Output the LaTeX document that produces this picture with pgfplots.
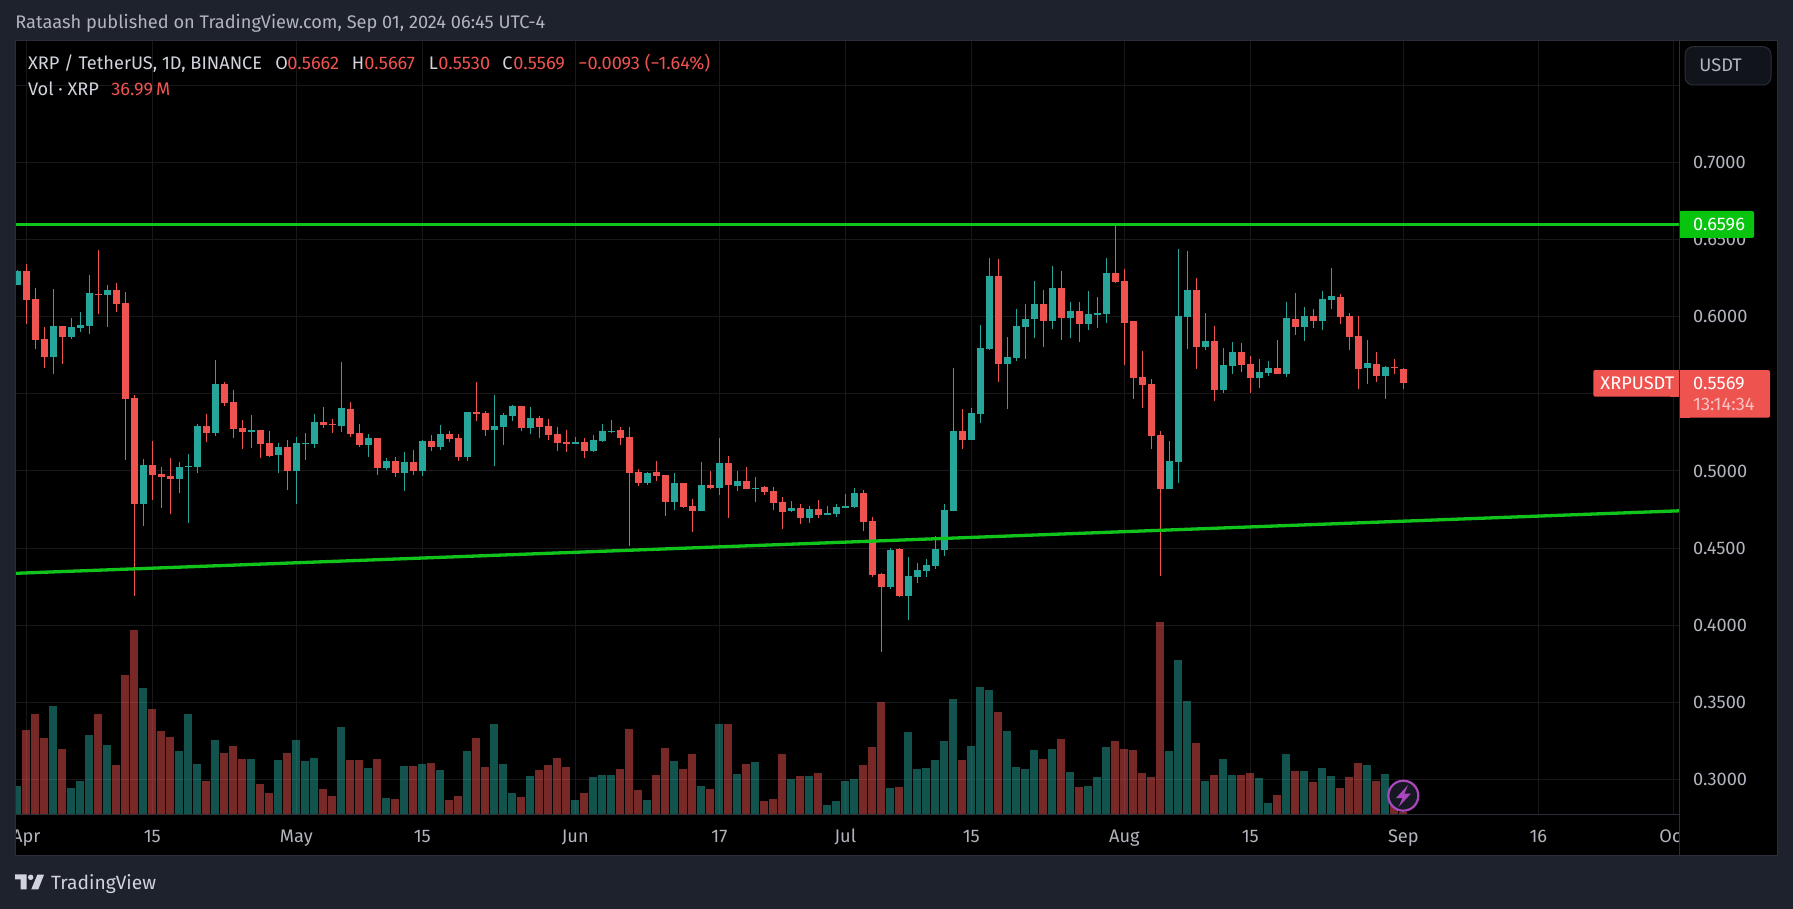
\documentclass[border=0pt]{standalone}
\usepackage{fontspec}
\setmainfont{Fira Sans}
\usepackage{pgfplots}
\usepackage{pgfplotstable}
\pgfplotsset{compat=1.18}

\definecolor{panel}{HTML}{1E222D}
\definecolor{frame}{HTML}{2A2E39}
\definecolor{gridc}{HTML}{18181A}
\definecolor{upc}{HTML}{26A69A}
\definecolor{downc}{HTML}{EF5350}
\definecolor{linec}{HTML}{10C41C}
\definecolor{tagg}{HTML}{08C40F}
\definecolor{labc}{HTML}{B2B5BE}
\definecolor{headc}{HTML}{D1D4DC}
\definecolor{boltc}{HTML}{AB47BC}

% d = days from 1 Apr; body top/bottom, wick high/low, volume in millions
\pgfplotstableread{
d top bot hi lo vol
-1 .6296 .6207 .6302 .6207 407
3 .5940 .5741 .6179 .5631 1515
5 .5933 .5870 .5991 .5857 379
6 .5946 .5927 .6030 .5901 476
7 .6153 .5940 .6270 .5888 1113
9 .6173 .6140 .6205 .5933 975
13 .5039 .4786 .5078 .4644 1765
17 .5026 .4948 .5058 .4857 892
18 .5032 .5026 .5110 .4660 1404
19 .5292 .5026 .5304 .4987 711
21 .5564 .5246 .5719 .5227 1044
25 .5266 .5253 .5363 .5149 781
28 .5155 .5104 .5181 .4987 767
30 .5181 .5000 .5220 .4786 1044
31 .5181 .5175 .5246 .5071 753
32 .5317 .5175 .5369 .5149 795
35 .5408 .5292 .5706 .5253 1224
38 .5214 .5168 .5240 .5091 656
40 .5065 .5019 .5084 .5006 240
42 .5058 .4987 .5123 .4870 684
44 .5194 .5000 .5201 .4968 711
46 .5240 .5155 .5298 .5136 628
49 .5382 .5093 .5382 .5065 892
52 .5291 .5265 .5492 .5032 1266
53 .5363 .5285 .5376 .5168 711
54 .5421 .5356 .5427 .5324 310
56 .5343 .5278 .5414 .5239 545
61 .5188 .5175 .5220 .5175 213
63 .5201 .5129 .5233 .5123 531
64 .5259 .5194 .5304 .5188 559
65 .5259 .5252 .5330 .5246 559
69 .4987 .4922 .4993 .4909 213
72 .4922 .4799 .4987 .4747 753
75 .4909 .4741 .5058 .4741 407
77 .5052 .4890 .5214 .4844 1266
79 .4935 .4903 .5000 .4870 573
81 .4890 .4883 .4961 .4799 739
85 .4760 .4741 .4805 .4734 504
87 .4753 .4695 .4773 .4663 545
89 .4728 .4715 .4773 .4715 143
90 .4766 .4721 .4786 .4702 199
91 .4773 .4760 .4851 .4760 476
92 .4857 .4766 .4890 .4760 504
96 .4488 .4248 .4501 .4235 379
98 .4319 .4190 .4443 .4034 1155
99 .4358 .4313 .4404 .4274 642
100 .4391 .4352 .4429 .4313 656
101 .4494 .4384 .4579 .4365 767
102 .4747 .4488 .4786 .4449 1030
103 .5259 .4741 .5667 .4741 1612
105 .5376 .5201 .5408 .5201 961
106 .5797 .5369 .5946 .5311 1779
107 .6263 .5790 .6380 .5784 1737
109 .5738 .5693 .5868 .5401 1169
110 .5939 .5732 .6049 .5713 670
111 .5985 .5933 .6082 .5725 642
112 .6082 .5985 .6231 .5862 906
114 .6186 .5972 .6328 .5920 919
116 .6037 .5991 .6095 .5862 601
118 .6017 .5952 .6166 .5913 407
119 .6024 .6011 .6127 .5926 531
120 .6283 .6017 .6380 .5959 947
127 .5065 .4883 .5194 .4883 892
128 .6004 .5058 .6438 .4922 2153
129 .6173 .5998 .6425 .5790 1585
131 .5842 .5803 .6024 .5784 476
133 .5687 .5525 .5797 .5505 781
134 .5771 .5680 .5836 .5628 559
137 .5641 .5602 .5725 .5538 517
138 .5667 .5635 .5713 .5615 171
140 .5991 .5628 .6095 .5609 850
142 .6004 .5933 .6062 .5842 614
144 .6114 .5972 .6166 .5913 656
145 .6134 .6108 .6315 .6049 545
149 .5700 .5667 .5849 .5563 698
151 .5674 .5615 .5680 .5466 573
}\greenT

\pgfplotstableread{
d top bot hi lo vol
0 .6296 .6110 .6341 .5952 1183
1 .6114 .5851 .6186 .5793 1404
2 .5855 .5741 .5933 .5670 1072
4 .5940 .5870 .5940 .5695 919
8 .6147 .6140 .6432 .6017 1404
10 .6173 .6082 .6218 .6030 698
11 .6089 .5466 .6160 .5071 1945
12 .5473 .4786 .5492 .4190 2569
14 .5039 .4974 .5194 .4812 1474
15 .4980 .4961 .5026 .4760 1169
16 .4968 .4948 .5084 .4721 1086
20 .5292 .5246 .5369 .5188 476
22 .5564 .5441 .5577 .5421 864
23 .5447 .5272 .5525 .5214 961
24 .5279 .5253 .5330 .5142 781
26 .5266 .5175 .5266 .5084 434
27 .5181 .5097 .5259 .5091 310
29 .5155 .5000 .5201 .4877 864
33 .5317 .5298 .5415 .5279 365
34 .5304 .5298 .5337 .5246 268
36 .5402 .5240 .5447 .5220 767
37 .5246 .5168 .5304 .5155 767
39 .5214 .5019 .5214 .4974 781
41 .5065 .4987 .5091 .4961 226
43 .5058 .5000 .5136 .4974 684
45 .5194 .5155 .5233 .5130 725
47 .5240 .5207 .5259 .5188 213
48 .5214 .5091 .5240 .5065 268
50 .5382 .5369 .5576 .5324 1072
51 .5376 .5265 .5389 .5227 670
55 .5421 .5278 .5421 .5259 254
57 .5343 .5285 .5356 .5214 628
58 .5291 .5233 .5337 .5201 698
59 .5239 .5181 .5285 .5129 795
60 .5188 .5177 .5265 .5123 670
62 .5188 .5129 .5214 .5084 310
66 .5265 .5214 .5285 .5168 642
67 .5220 .4987 .5285 .4514 1197
68 .4993 .4922 .5013 .4903 351
70 .4993 .4967 .5065 .4935 559
71 .4974 .4799 .4974 .4708 933
73 .4922 .4766 .4922 .4760 642
74 .4773 .4741 .4818 .4604 850
76 .4909 .4890 .5000 .4883 365
78 .5052 .4909 .5097 .4695 1266
80 .4935 .4883 .5026 .4883 711
82 .4896 .4864 .4903 .4844 199
83 .4870 .4792 .4896 .4747 226
84 .4799 .4734 .4831 .4624 850
86 .4760 .4695 .4786 .4656 545
88 .4753 .4715 .4812 .4695 587
93 .4857 .4669 .4877 .4611 698
94 .4676 .4326 .4702 .4313 947
95 .4332 .4248 .4339 .3827 1571
97 .4494 .4190 .4501 .4183 393
104 .5259 .5201 .5401 .5142 767
108 .6263 .5693 .6373 .5576 1432
113 .6082 .5972 .6173 .5803 781
115 .6186 .5991 .6296 .5849 1058
117 .6037 .5952 .6095 .5836 393
121 .6283 .6224 .6596 .6218 1030
122 .6231 .5959 .6309 .5687 919
123 .5972 .5602 .5972 .5466 906
124 .5609 .5557 .5777 .5408 587
125 .5563 .5227 .5596 .5142 531
126 .5233 .4883 .5259 .4319 2680
130 .6173 .5803 .6250 .5661 1003
132 .5842 .5525 .5939 .5453 559
135 .5771 .5687 .5829 .5641 559
136 .5693 .5602 .5745 .5505 587
139 .5667 .5628 .5849 .5628 282
141 .5985 .5933 .6153 .5881 614
143 .6004 .5972 .6049 .5926 462
146 .6127 .5998 .6147 .5952 379
147 .6004 .5868 .6024 .5784 531
148 .5875 .5661 .6004 .5531 725
150 .5693 .5615 .5771 .5576 476
152 .5674 .5670 .5725 .5628 176
153 .5662 .5569 .5667 .5530 37
}\redT

\newcommand{\tvfont}{\fontsize{9.1}{11}\selectfont}

\pgfplotsset{
  wicks/.style={forget plot, no marks, #1, line width=0.5pt, line cap=butt,
    quiver={u=0, v={\thisrow{hi}-\thisrow{lo}}}},
  bodies/.style={forget plot, no marks, #1, line width=3.5pt, line cap=butt,
    quiver={u=0, v={\thisrow{top}-\thisrow{bot}}}},
  chartbox/.style={
    scale only axis, width=831.8pt, height=387pt,
    at={(7.85pt,-407.5pt)}, anchor=south west,
    xmin=-1.181, xmax=183.66},
}

\begin{document}
\begin{tikzpicture}[x=0.5pt,y=-0.5pt]
\useasboundingbox (0,0) rectangle (1793,909);
\fill[panel] (0,0) rectangle (1793,909);
\fill[black] (15,41) rectangle (1777,855);
\draw[frame,line width=0.5pt] (15,41) rectangle (1777,855);

\begin{axis}[chartbox,
  ymin=0.2771, ymax=0.7786,
  axis line style={draw=none},
  major tick length=0pt,
  grid=major, grid style={gridc,line width=0.5pt},
  xtick={0,14,30,44,61,77,91,105,122,136,153,168,183},
  xticklabels={Apr,15,May,15,Jun,17,Jul,15,Aug,15,Sep,16,Oct},
  ytick={0.3,0.35,0.4,0.45,0.5,0.55,0.6,0.65,0.7,0.75},
  yticklabels={0.3000,0.3500,0.4000,0.4500,0.5000,,0.6000,0.6500,0.7000,},
  yticklabel pos=right,
  xticklabel style={font=\tvfont,text=labc,anchor=base,yshift=-13.6pt,inner sep=0pt},
  yticklabel style={font=\tvfont,text=labc,anchor=west,xshift=6.7pt,inner sep=0pt},
]
\addplot[wicks=upc] table[x=d,y=lo]{\greenT};
\addplot[wicks=downc] table[x=d,y=lo]{\redT};
\addplot[bodies=upc] table[x=d,y=bot]{\greenT};
\addplot[bodies=downc] table[x=d,y=bot]{\redT};
% support and resistance
\addplot[linec,line width=1.65pt] coordinates {(-1.181,0.6596) (183.66,0.6596)};
\addplot[linec,line width=1.65pt] coordinates {(-1.181,0.4337) (183.66,0.4742)};
\end{axis}

% volume, own scale
\begin{axis}[chartbox, hide axis, ymin=0, ymax=10728]
\addplot[ycomb,upc,draw opacity=0.5,line width=4pt,line cap=butt,mark=none] table[x=d,y=vol]{\greenT};
\addplot[ycomb,downc,draw opacity=0.5,line width=4pt,line cap=butt,mark=none] table[x=d,y=vol]{\redT};
\end{axis}

% masks that cut the Apr and Oct labels
\fill[panel] (0,816) rectangle (14.6,854);
\fill[black] (1679.3,816) rectangle (1776.5,854);
\draw[frame,line width=0.5pt] (15,41) -- (15,855);
\draw[frame,line width=0.5pt] (15.7,814.6) -- (1679.3,814.6);
\draw[frame,line width=0.5pt] (1679.3,41) -- (1679.3,855);

% header
\begingroup\tvfont
\node[anchor=base west,inner sep=0pt,text=labc] at (15,29) {Rataash published on TradingView.com, Sep 01, 2024 06:45 UTC-4};
\node[anchor=base west,inner sep=0pt,text=headc] at (27.6,69.5) {XRP / TetherUS, 1D, BINANCE};
\foreach \x/\t in {275/O,351.5/H,428.5/L,502/C}
  \node[anchor=base west,inner sep=0pt,text=headc] at (\x,69.5) {\t};
\foreach \x/\t in {287/0.5662,364/0.5667,438/0.5530,513/0.5569,578/{−0.0093 (−1.64\%)}}
  \node[anchor=base west,inner sep=0pt,text=downc] at (\x,69.5) {\t};
\node[anchor=base west,inner sep=0pt,text=headc] at (27.6,95.5) {Vol · XRP};
\node[anchor=base west,inner sep=0pt,text=downc] at (111,95.5) {36.99\,M};

% price tags
\fill[tagg,rounded corners=1pt] (1680,211) rectangle (1754,238);
\fill[tagg] (1680,211) rectangle (1690,238);
\node[anchor=west,inner sep=0pt,text=white] at (1692.7,224.5) {0.6596};
\fill[downc,rounded corners=1pt] (1593.3,370) rectangle (1679,396.7);
\fill[downc] (1670,370) rectangle (1679,396.7);
\node[anchor=west,inner sep=0pt,text=white] at (1600,383.4) {XRPUSDT};
\fill[downc,rounded corners=1pt] (1680,370) rectangle (1770,417.7);
\fill[downc] (1680,370) rectangle (1690,417.7);
\node[anchor=west,inner sep=0pt,text=white] at (1692.7,383.4) {0.5569};
\node[anchor=west,inner sep=0pt,text=white!65!downc] at (1692.7,404.7) {13:14:34};
\filldraw[fill=panel!60!black,draw=frame,line width=0.5pt,rounded corners=4pt] (1685,46.7) rectangle (1771,85);
\node[anchor=west,inner sep=0pt,text=labc] at (1699,65.5) {USDT};

% footer
\fill[headc] (15,874.3) -- (26.7,874.3) -- (26.7,889.3) -- (20.7,889.3) -- (20.7,879.3) -- (15,879.3) -- cycle;
\fill[headc] (30.7,877.3) circle[radius=2.7];
\fill[headc] (44,874.7) -- (38.3,889.3) -- (31.3,889.3) -- (37.3,874.7) -- cycle;
\node[anchor=base west,inner sep=0pt,text=headc,font=\fontsize{9.6}{11}\selectfont] at (50.7,889.3) {TradingView};
\endgroup

% lightning mark
\filldraw[fill=panel!75!black,draw=boltc,line width=1.1pt] (1403.3,795.7) circle[radius=15];
\fill[boltc] (1408,785) -- (1396,798) -- (1402.5,798) -- (1398.5,807) -- (1411,793.5) -- (1404.5,793.5) -- cycle;
\end{tikzpicture}
\end{document}
